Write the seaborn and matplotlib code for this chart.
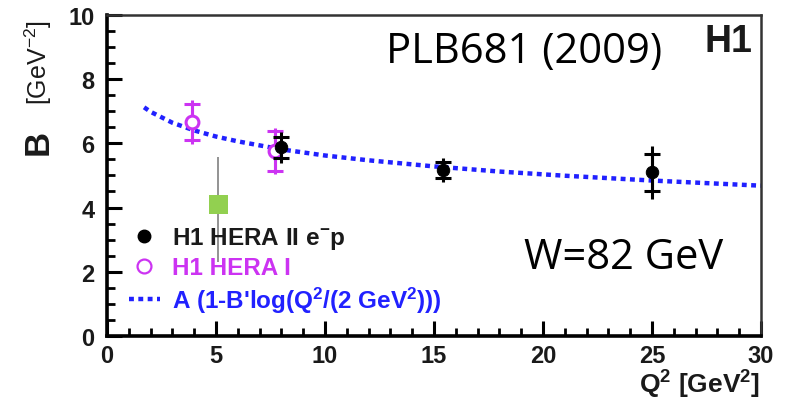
import matplotlib
matplotlib.use("Agg")
import matplotlib.pyplot as plt
from matplotlib.lines import Line2D
from matplotlib.ticker import MultipleLocator
import pandas as pd
import seaborn as sns

# H1 HERA II e-p measurements
q2_hera2 = [8.0, 15.4, 25.0]
b_hera2 = [5.87, 5.17, 5.10]
stat_hera2 = [0.33, 0.25, 0.57]
tot_hera2 = [0.47, 0.38, 0.82]

# H1 HERA I measurements
q2_hera1 = [3.9, 7.7]
b_hera1 = [6.67, 5.76]
stat_hera1 = [0.56, 0.63]
tot_hera1 = [0.68, 0.73]

# Additional point (green square) with asymmetric error
q2_extra = [5.1]
b_extra = [4.1]
err_extra_lo = [1.8]
err_extra_hi = [1.48]

# Fitted dependence A(1 - B' log(Q^2 / 2 GeV^2))
q2_fit = [1.7, 2.0, 3.0, 4.0, 5.0, 6.0, 8.0, 10.0, 12.0, 15.0, 18.0, 21.0, 25.0, 30.0]
b_fit = [7.12, 6.98, 6.64, 6.40, 6.21, 6.06, 5.81, 5.62, 5.47, 5.28, 5.12, 4.99, 4.84, 4.68]

x_ticks = [0, 5, 10, 15, 20, 25, 30]
y_ticks = [0, 2, 4, 6, 8, 10]

sns.set_theme(style="white")
plt.rcParams["font.family"] = ["Liberation Sans", "DejaVu Sans"]
plt.rcParams["mathtext.fontset"] = "custom"
plt.rcParams["mathtext.rm"] = "Liberation Sans"
plt.rcParams["mathtext.bf"] = "Liberation Sans:bold"
plt.rcParams["mathtext.default"] = "bf"

MAGENTA = "#CC33F2"
BLUE = "#2121FF"
GREEN = "#92D050"
TXT = "#1a1a1a"

fig = plt.figure(figsize=(7.87, 4.06), dpi=100)
ax = fig.add_axes([0.136, 0.170, 0.831, 0.791])

fit_df = pd.DataFrame({"q2": q2_fit, "b": b_fit})
sns.lineplot(data=fit_df, x="q2", y="b", ax=ax, color=BLUE, lw=3.2,
             linestyle=(0, (1.1, 1.0)), dash_capstyle="butt", zorder=2)

# green point with its error bar
ax.errorbar(q2_extra, b_extra, yerr=[err_extra_lo, err_extra_hi], fmt="none",
            ecolor="#808080", elinewidth=1.2, zorder=3)
sns.scatterplot(x=q2_extra, y=b_extra, ax=ax, marker="s", s=190, color=GREEN,
                edgecolor="none", zorder=4)

# HERA I: total error line, stat error caps
ax.errorbar(q2_hera1, b_hera1, yerr=tot_hera1, fmt="none", ecolor=MAGENTA,
            elinewidth=2.2, capsize=0, zorder=5)
ax.errorbar(q2_hera1, b_hera1, yerr=stat_hera1, fmt="none", ecolor=MAGENTA,
            elinewidth=2.2, capsize=6, capthick=2.2, zorder=5)
sns.scatterplot(x=q2_hera1, y=b_hera1, ax=ax, marker="o", s=85,
                facecolor="white", edgecolor=MAGENTA, linewidth=2.2, zorder=6)

# HERA II
ax.errorbar(q2_hera2, b_hera2, yerr=tot_hera2, fmt="none", ecolor="black",
            elinewidth=2.2, capsize=0, zorder=7)
ax.errorbar(q2_hera2, b_hera2, yerr=stat_hera2, fmt="none", ecolor="black",
            elinewidth=2.2, capsize=6, capthick=2.2, zorder=7)
sns.scatterplot(x=q2_hera2, y=b_hera2, ax=ax, marker="o", s=80,
                color="black", edgecolor="black", zorder=8)

ax.set_xlim(0, 30)
ax.set_ylim(0, 10)
ax.set_xticks(x_ticks)
ax.set_yticks(y_ticks)
ax.xaxis.set_minor_locator(MultipleLocator(1))
ax.yaxis.set_minor_locator(MultipleLocator(0.5))
ax.tick_params(axis="both", which="major", direction="in", length=11, width=2.2,
               colors="black", labelcolor=TXT, labelsize=17)
ax.tick_params(axis="both", which="minor", direction="in", length=6, width=2.0,
               colors="black")
ax.tick_params(axis="y", which="both", pad=9, left=True, right=False)
ax.tick_params(axis="x", which="both", pad=6, bottom=True, top=False)
for lab in ax.get_xticklabels() + ax.get_yticklabels():
    lab.set_fontweight("bold")
for side in ["left", "bottom"]:
    ax.spines[side].set_linewidth(2.6)
    ax.spines[side].set_color("black")
for side in ["top", "right"]:
    ax.spines[side].set_linewidth(1.8)
    ax.spines[side].set_color("#333333")
ax.set_xlabel("")
ax.set_ylabel("")

# axis titles
fig.text(0.049, 0.648, "B", rotation=90, fontsize=25, fontweight="bold",
         color=TXT, ha="center", va="center")
fig.text(0.049, 0.845, r"[GeV$^{\mathrm{-2}}$]", rotation=90, fontsize=18,
         color=TXT, ha="center", va="center")
fig.text(0.966, 0.012, "Q$^{2}$ [GeV$^{2}$]", fontsize=19, fontweight="bold",
         color=TXT, ha="right", va="bottom")

# annotations
ax.text(0.987, 0.975, "H1", transform=ax.transAxes, fontsize=27,
        fontweight="bold", color=TXT, ha="right", va="top")
fig.text(0.490, 0.872, "PLB681 (2009)", fontsize=30, color="black",
         family=["Open Sans", "DejaVu Sans"], ha="left", va="center")
fig.text(0.666, 0.365, "W=82 GeV", fontsize=30, color="black",
         family=["Open Sans", "DejaVu Sans"], ha="left", va="center")

handles = [
    Line2D([], [], marker="o", ls="none", color="black", markersize=9),
    Line2D([], [], marker="o", ls="none", markerfacecolor="white",
           markeredgecolor=MAGENTA, markeredgewidth=1.6, markersize=10),
    Line2D([], [], color=BLUE, lw=3.2, linestyle=(0, (1.1, 1.0))),
]
labels = ["H1 HERA II e$^{-}$p", "H1 HERA I",
          "A (1-B'log(Q$^{2}$/(2 GeV$^{2}$)))"]
leg = ax.legend(handles, labels, loc="lower left", bbox_to_anchor=(0.018, 0.035),
                frameon=False, fontsize=17.5, handlelength=1.3, handletextpad=0.5,
                labelspacing=0.22, borderaxespad=0)
for t, c in zip(leg.get_texts(), [TXT, MAGENTA, BLUE]):
    t.set_color(c)
    t.set_fontweight("bold")

fig.savefig("out.png", dpi=100)
